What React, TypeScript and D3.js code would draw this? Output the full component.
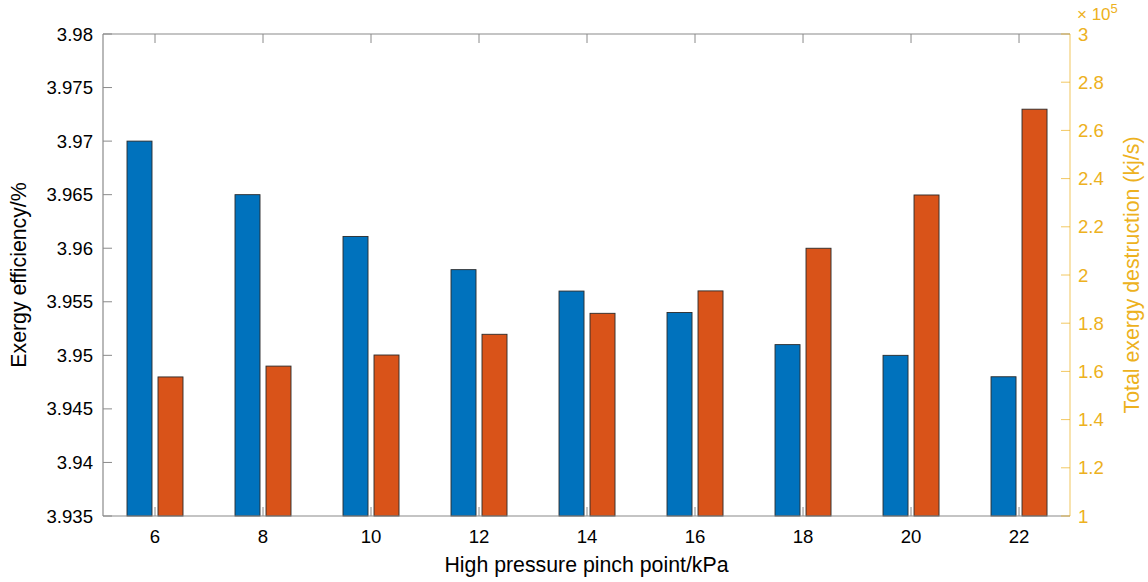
import React from "react";
import * as d3 from "d3";

const pinchPoints = [6, 8, 10, 12, 14, 16, 18, 20, 22];
const exergyEfficiency = [3.970, 3.965, 3.9611, 3.958, 3.956, 3.954, 3.951, 3.950, 3.948];
const exergyDestruction = [1.577, 1.622, 1.668, 1.754, 1.841, 1.934, 2.111, 2.332, 2.688]; // ×10^5 kj/s
const leftTicks = [3.935, 3.94, 3.945, 3.95, 3.955, 3.96, 3.965, 3.97, 3.975, 3.98];
const leftTickLabels = ["3.935", "3.94", "3.945", "3.95", "3.955", "3.96", "3.965", "3.97", "3.975", "3.98"];
const rightTicks = [1, 1.2, 1.4, 1.6, 1.8, 2, 2.2, 2.4, 2.6, 2.8, 3];
const rightTickLabels = ["1", "1.2", "1.4", "1.6", "1.8", "2", "2.2", "2.4", "2.6", "2.8", "3"];

const W = 1148;
const H = 582;
const M = { left: 103, right: 1070, top: 34, bottom: 516 };
const BLUE = "#0072BD";
const ORANGE = "#D95319";
const YELLOW = "#EDB120";
const AXIS = "#8a8a8a";
const FONT = "'Liberation Sans', Arial, Helvetica, sans-serif";

export default function App() {
  const x = d3.scaleLinear().domain([5.037, 22.944]).range([M.left, M.right]);
  const yL = d3.scaleLinear().domain([3.935, 3.98]).range([M.bottom, M.top]);
  const yR = d3.scaleLinear().domain([1, 3]).range([M.bottom, M.top]);
  const offset = 0.287;
  const bw = x(0.463) - x(0);
  const tickLen = 9;

  return (
    <svg width={W} height={H} style={{ position: "absolute", left: 0, top: 0, background: "#fff" }} fontFamily={FONT}>
      <rect x={0} y={0} width={W} height={H} fill="#fff" />
      {/* bars */}
      {pinchPoints.map((p, i) => (
        <g key={p}>
          <rect
            x={x(p - offset) - bw / 2}
            y={yL(exergyEfficiency[i])}
            width={bw}
            height={M.bottom - yL(exergyEfficiency[i])}
            fill={BLUE}
            stroke="#2a2a2a"
            strokeWidth={0.9}
          />
          <rect
            x={x(p + offset) - bw / 2}
            y={yR(exergyDestruction[i])}
            width={bw}
            height={M.bottom - yR(exergyDestruction[i])}
            fill={ORANGE}
            stroke="#2a2a2a"
            strokeWidth={0.9}
          />
        </g>
      ))}
      {/* box */}
      <line x1={M.left} x2={M.right} y1={M.top} y2={M.top} stroke={AXIS} strokeWidth={1.2} />
      <line x1={M.left} x2={M.right} y1={M.bottom} y2={M.bottom} stroke={AXIS} strokeWidth={1.2} />
      <line x1={M.left} x2={M.left} y1={M.top} y2={M.bottom} stroke={AXIS} strokeWidth={1.2} />
      <line x1={M.right} x2={M.right} y1={M.top} y2={M.bottom} stroke={YELLOW} strokeOpacity={0.6} strokeWidth={1.2} />
      {/* x ticks */}
      {pinchPoints.map((p) => (
        <g key={"xt" + p}>
          <line x1={x(p)} x2={x(p)} y1={M.bottom} y2={M.bottom - tickLen} stroke={AXIS} strokeWidth={1} />
          <line x1={x(p)} x2={x(p)} y1={M.top} y2={M.top + tickLen} stroke={AXIS} strokeWidth={1} />
          <text x={x(p)} y={M.bottom + 27} textAnchor="middle" fontSize={18.6} fill="#000">
            {p}
          </text>
        </g>
      ))}
      {/* left ticks */}
      {leftTicks.map((t, i) => (
        <g key={"lt" + i}>
          <line x1={M.left} x2={M.left + tickLen} y1={yL(t)} y2={yL(t)} stroke={AXIS} strokeWidth={1} />
          <text x={M.left - 10} y={yL(t)} dy="0.35em" textAnchor="end" fontSize={18.6} fill="#000">
            {leftTickLabels[i]}
          </text>
        </g>
      ))}
      {/* right ticks */}
      {rightTicks.map((t, i) => (
        <g key={"rt" + i}>
          <line x1={M.right} x2={M.right - tickLen} y1={yR(t)} y2={yR(t)} stroke={YELLOW} strokeOpacity={0.7} strokeWidth={1} />
          <text x={M.right + 8} y={yR(t)} dy="0.35em" textAnchor="start" fontSize={18.6} fill={YELLOW}>
            {rightTickLabels[i]}
          </text>
        </g>
      ))}
      {/* exponent */}
      <text x={M.right + 7} y={20} fontSize={17} fill={YELLOW}>
        × 10
        <tspan dy={-7} fontSize={13}>5</tspan>
      </text>
      {/* axis labels */}
      <text x={(M.left + M.right) / 2} y={572} textAnchor="middle" fontSize={21.3} fill="#000">
        High pressure pinch point/kPa
      </text>
      <text
        transform={`translate(26, ${(M.top + M.bottom) / 2}) rotate(-90)`}
        textAnchor="middle"
        fontSize={21.3}
        fill="#000"
      >
        Exergy efficiency/%
      </text>
      <text
        transform={`translate(1139, ${(M.top + M.bottom) / 2}) rotate(-90)`}
        textAnchor="middle"
        fontSize={21.3}
        fill={YELLOW}
      >
        Total exergy destruction (kj/s)
      </text>
    </svg>
  );
}
